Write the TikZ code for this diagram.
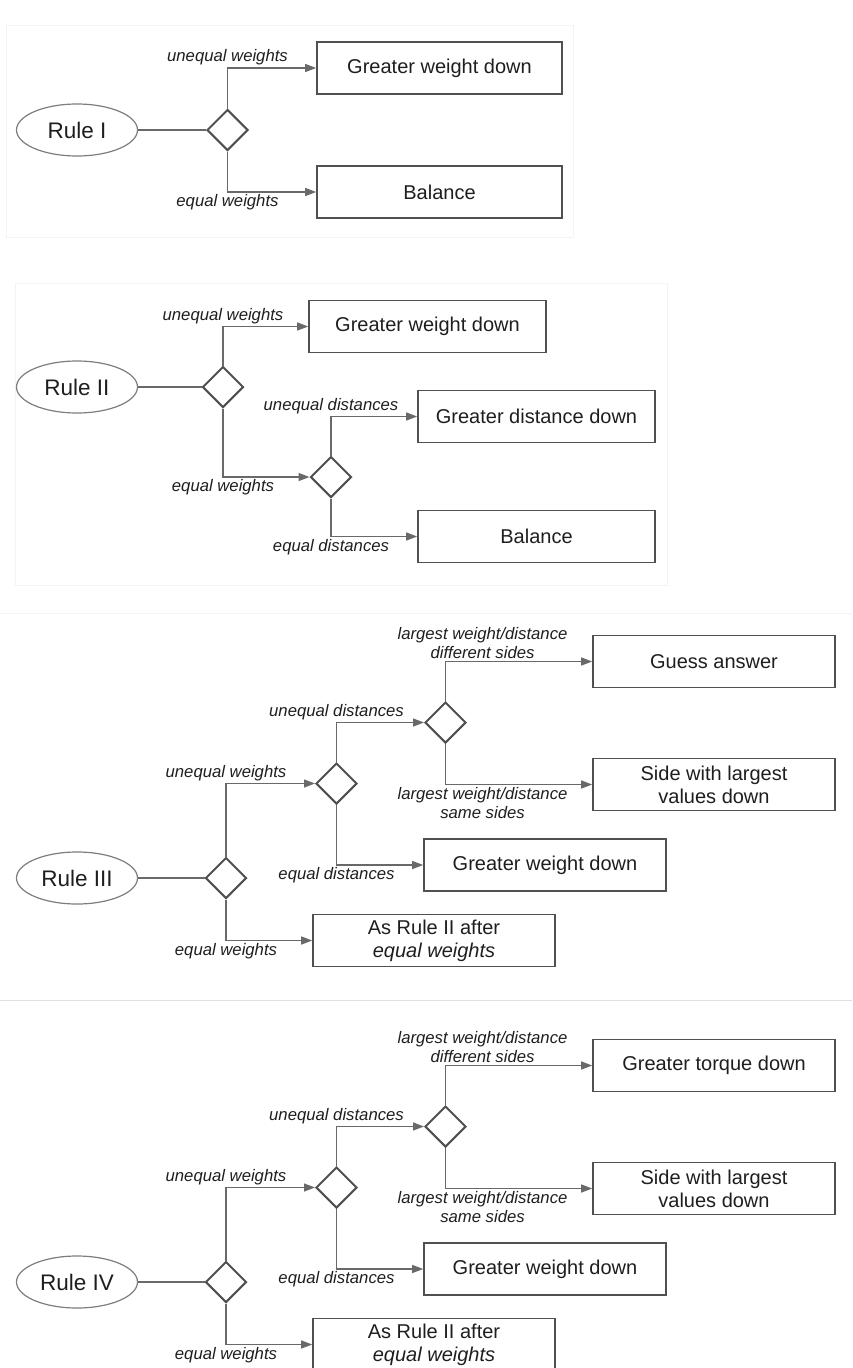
\documentclass[tikz,border=0pt]{standalone}
\usepackage{fontspec}
\setmainfont{Liberation Sans}
\usepackage{tikz}
\usetikzlibrary{shapes.geometric,arrows.meta}
\definecolor{linegray}{RGB}{105,105,105}
\definecolor{boxgray}{RGB}{80,80,80}
\definecolor{ovalgray}{RGB}{125,125,125}
\definecolor{txtgray}{RGB}{30,30,30}
\definecolor{framegray}{RGB}{243,243,243}
\tikzstyle{rule}=[draw=ovalgray,line width=1.2pt,ellipse,minimum width=121pt,minimum height=52pt,inner sep=0pt,text=txtgray,font=\fontsize{22.5}{26}\selectfont]
\tikzstyle{choice}=[draw=boxgray,line width=2pt,diamond,minimum width=41pt,minimum height=41pt,inner sep=0pt]
\tikzstyle{box}=[draw=boxgray,line width=1.6pt,rectangle,minimum height=52pt,inner sep=0pt,align=center,text=txtgray,font=\fontsize{20}{23}\selectfont]
\tikzstyle{lbl}=[inner sep=2pt,align=center,text=txtgray,font=\fontsize{16.7}{19.5}\selectfont\itshape]
\tikzstyle{flow}=[draw=linegray,line width=1.3pt,-{Triangle[length=11pt,width=8pt]}]
\tikzstyle{link}=[draw=linegray,line width=1.3pt]

\begin{document}
\begin{tikzpicture}[x=1pt,y=-1pt]
\useasboundingbox (0,0) rectangle (852,1368);
\draw[framegray] (6,25) rectangle (573,237);
\draw[framegray] (15,283) rectangle (667,585);
\draw[framegray] (0,613) -- (852,613);
\draw[black!12,line width=1pt] (0,1000) -- (852,1000);

\node[rule] (r1) at (77,130) {Rule I};
\node[choice] (c1) at (227.5,130) {};
\node[box,minimum width=245pt] (g1) at (439.5,68) {Greater weight down};
\node[box,minimum width=245pt] (b1) at (439.5,192) {Balance};
\draw[link] (r1.east) -- (c1.west);
\draw[flow] (c1.north) |- node[lbl,above] {unequal weights} (g1.west);
\draw[flow] (c1.south) |- node[lbl,below] {equal weights} (b1.west);

\node[rule] (r2) at (77,387) {Rule II};
\node[choice] (c2) at (223,387) {};
\node[choice] (c2b) at (331,477) {};
\node[box,minimum width=237pt] (g2) at (427.5,326.5) {Greater weight down};
\node[box,minimum width=237pt] (d2) at (536.5,416.5) {Greater distance down};
\node[box,minimum width=237pt] (b2) at (536.5,536.5) {Balance};
\draw[link] (r2.east) -- (c2.west);
\draw[flow] (c2.north) |- node[lbl,above] {unequal weights} (g2.west);
\draw[flow] (c2.south) |- node[lbl,below] {equal weights} (c2b.west);
\draw[flow] (c2b.north) |- node[lbl,above] {unequal distances} (d2.west);
\draw[flow] (c2b.south) |- node[lbl,below] {equal distances} (b2.west);

\node[rule] (r3) at (77,878) {Rule III};
\node[choice] (c3) at (226,878) {};
\node[choice] (c3b) at (336.5,783.5) {};
\node[choice] (c3c) at (445.5,722.5) {};
\node[box,minimum width=242pt] (q3) at (714,661.5) {Guess answer};
\node[box,minimum width=242pt] (s3) at (714,784.5) {Side with largest\\values down};
\node[box,minimum width=242pt] (g3) at (545,865) {Greater weight down};
\node[box,minimum width=242pt] (a3) at (434,940.5) {As Rule II after\\\textit{equal weights}};
\draw[link] (r3.east) -- (c3.west);
\draw[flow] (c3.north) |- node[lbl,above] {unequal weights} (c3b.west);
\draw[flow] (c3.south) |- node[lbl,below] {equal weights} (a3.west);
\draw[flow] (c3b.north) |- node[lbl,above] {unequal distances} (c3c.west);
\draw[flow] (c3b.south) |- node[lbl,below] {equal distances} (g3.west);
\draw[flow] (c3c.north) |- node[lbl,above,xshift=37pt] {largest weight/distance\\different sides} (q3.west);
\draw[flow] (c3c.south) |- node[lbl,below,xshift=37pt] {largest weight/distance\\same sides} (s3.west);

\begin{scope}[yshift=-404pt]
\node[rule] (r4) at (77,878) {Rule IV};
\node[choice] (c4) at (226,878) {};
\node[choice] (c4b) at (336.5,783.5) {};
\node[choice] (c4c) at (445.5,722.5) {};
\node[box,minimum width=242pt] (t4) at (714,661.5) {Greater torque down};
\node[box,minimum width=242pt] (s4) at (714,784.5) {Side with largest\\values down};
\node[box,minimum width=242pt] (g4) at (545,865) {Greater weight down};
\node[box,minimum width=242pt] (a4) at (434,940.5) {As Rule II after\\\textit{equal weights}};
\draw[link] (r4.east) -- (c4.west);
\draw[flow] (c4.north) |- node[lbl,above] {unequal weights} (c4b.west);
\draw[flow] (c4.south) |- node[lbl,below] {equal weights} (a4.west);
\draw[flow] (c4b.north) |- node[lbl,above] {unequal distances} (c4c.west);
\draw[flow] (c4b.south) |- node[lbl,below] {equal distances} (g4.west);
\draw[flow] (c4c.north) |- node[lbl,above,xshift=37pt] {largest weight/distance\\different sides} (t4.west);
\draw[flow] (c4c.south) |- node[lbl,below,xshift=37pt] {largest weight/distance\\same sides} (s4.west);
\end{scope}
\end{tikzpicture}
\end{document}
